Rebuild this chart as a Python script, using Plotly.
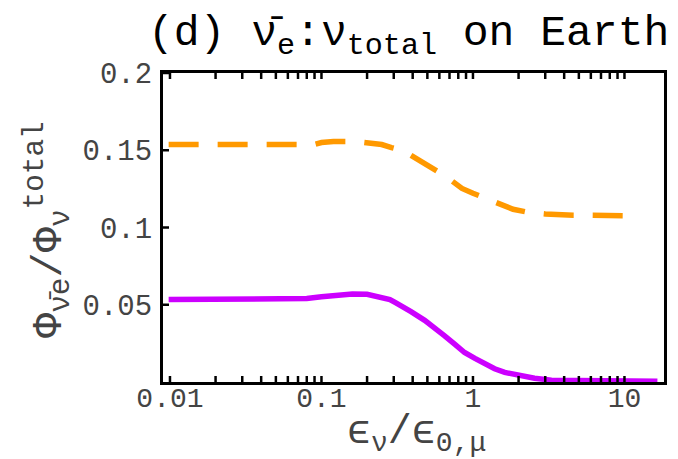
import plotly.graph_objects as go

# ---- data ----
energy_nuebar = [0.0098, 0.02, 0.05, 0.09, 0.1, 0.12, 0.17, 0.21, 0.25, 0.29, 0.345,
                 0.40, 0.468, 0.553, 0.63, 0.73, 0.846, 1.0, 1.15, 1.3, 1.55, 1.84,
                 2.3, 3.0, 4.6, 8.0, 12.8]
ratio_nuebar = [0.1537, 0.1537, 0.1537, 0.1538, 0.155, 0.1556, 0.1556, 0.1545, 0.1537, 0.1517, 0.1498,
                0.146, 0.1421, 0.1382, 0.1344, 0.130, 0.1253, 0.1222, 0.1196, 0.1176, 0.1145, 0.1118,
                0.1099, 0.1088, 0.108, 0.108, 0.1075]

energy_nue = [0.0098, 0.02, 0.05, 0.08, 0.1, 0.13, 0.16, 0.2, 0.236, 0.283, 0.306,
              0.335, 0.39, 0.48, 0.558, 0.65, 0.757, 0.88, 1.03, 1.19, 1.39, 1.62,
              1.98, 2.55, 3.3, 5.0, 10.0, 16.5]
ratio_nue = [0.0534, 0.0534, 0.0534, 0.0540, 0.0552, 0.0562, 0.0570, 0.0568, 0.0552, 0.0534, 0.0515,
             0.0494, 0.0455, 0.0399, 0.0354, 0.0299, 0.0245, 0.0191, 0.0153, 0.0116, 0.0086, 0.0062,
             0.0043, 0.0024, 0.0012, 0.0008, 0.0006, 0.0005]

x_tickvals = [0.01, 0.02, 0.03, 0.04, 0.05, 0.06, 0.07, 0.08, 0.09,
              0.1, 0.2, 0.3, 0.4, 0.5, 0.6, 0.7, 0.8, 0.9,
              1, 2, 3, 4, 5, 6, 7, 8, 9,
              10]
x_ticktext = ["0.01", "", "", "", "", "", "", "", "",
              "0.1", "", "", "", "", "", "", "", "",
              "1", "", "", "", "", "", "", "", "",
              "10"]

y_tickvals = [0.05, 0.1, 0.15, 0.2]
y_ticktext = ["0.05", "0.1", "0.15", "0.2"]

FONT = "Liberation Mono"
LABEL_COLOR = "#444444"
TICK_LEN = 6

fig = go.Figure()
fig.add_trace(go.Scatter(x=energy_nuebar, y=ratio_nuebar, mode="lines",
                         line=dict(color="#FF9900", width=5.5, dash="30px,19px"),
                         showlegend=False))
fig.add_trace(go.Scatter(x=energy_nue, y=ratio_nue, mode="lines",
                         line=dict(color="#CC00FF", width=5.5),
                         showlegend=False))

L, R, T, B = 155, 656, 65, 374
W, H = 678, 459

def px(xp):
    return (xp - L) / (R - L)

def py(yp):
    return (B - yp) / (B - T)

fig.update_layout(
    width=W, height=H,
    margin=dict(l=L, r=W - R, t=T, b=H - B, pad=0),
    paper_bgcolor="white", plot_bgcolor="white",
    font=dict(family=FONT, color=LABEL_COLOR, size=28),
    showlegend=False,
)

fig.update_xaxes(
    type="log", range=[-2.046, 1.261],
    tickmode="array", tickvals=x_tickvals, ticktext=x_ticktext,
    showgrid=False, zeroline=False,
    showline=True, linecolor="black", linewidth=3, mirror=True,
    ticks="", ticklabelstandoff=-12,
    tickfont=dict(family=FONT, size=28, color=LABEL_COLOR),
)
fig.update_yaxes(
    range=[0, 0.2],
    tickmode="array", tickvals=y_tickvals, ticktext=y_ticktext,
    showgrid=False, zeroline=False,
    showline=True, linecolor="black", linewidth=3, mirror=True,
    ticks="", ticklabelstandoff=2,
    tickfont=dict(family=FONT, size=29, color=LABEL_COLOR),
)

# inward tick marks (bottom + top frame, left frame), placed through the axes
for v in x_tickvals:
    for anchor, sgn in ((0, 1), (1, -1)):
        fig.add_shape(type="line", xref="x", yref="paper", x0=v, x1=v,
                      ysizemode="pixel", yanchor=anchor, y0=0, y1=sgn * TICK_LEN,
                      line=dict(color="black", width=2.5), layer="above")
for v in y_tickvals:
    fig.add_shape(type="line", xref="paper", yref="y", y0=v, y1=v,
                  xsizemode="pixel", xanchor=0, x0=0, x1=TICK_LEN,
                  line=dict(color="black", width=2.5), layer="above")

# title
fig.add_annotation(
    x=px(400), y=py(28), xref="paper", yref="paper", xanchor="center", yanchor="middle",
    text="(d) ν̄<sub>e</sub>:ν<sub>total</sub> on Earth",
    showarrow=False, font=dict(family=FONT, size=43, color="black"),
)
# x axis title
fig.add_annotation(
    x=px(408), y=py(426), xref="paper", yref="paper", xanchor="center", yanchor="middle",
    text="ϵ<sub>ν</sub>/ϵ<sub>0,μ</sub>",
    showarrow=False, font=dict(family=FONT, size=40, color=LABEL_COLOR),
)
# y axis title
fig.add_annotation(
    x=px(40), y=py(222), xref="paper", yref="paper", xanchor="center", yanchor="middle",
    text="Φ<sub>ν̄e</sub>/Φ<sub>ν</sub><sup>total</sup>", textangle=-90,
    showarrow=False, font=dict(family=FONT, size=42, color=LABEL_COLOR),
)

fig.write_html("out.html")
